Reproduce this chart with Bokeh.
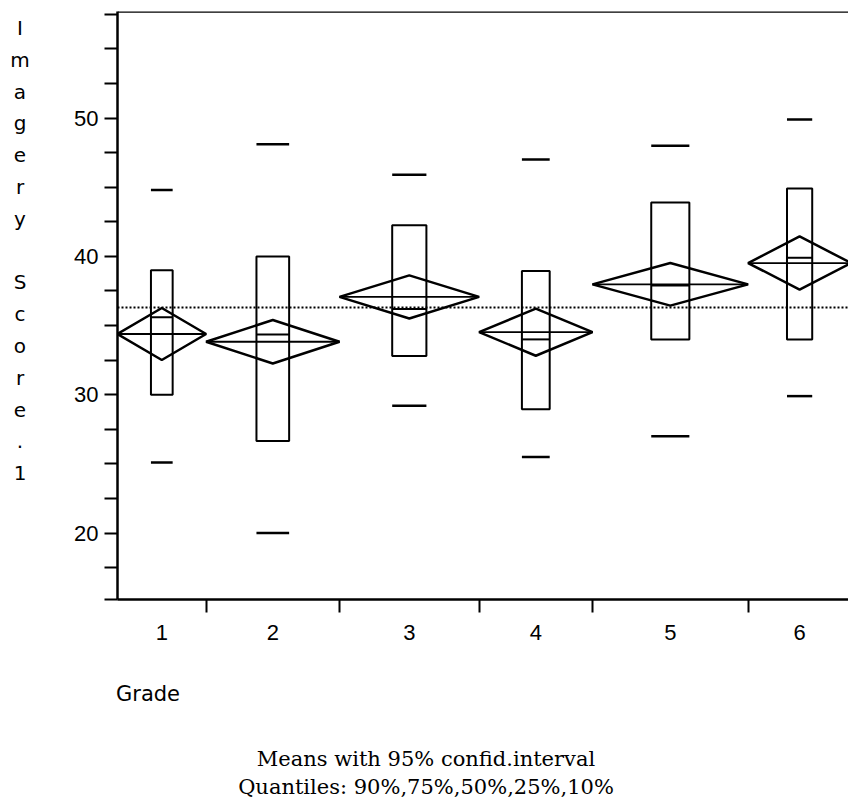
import numpy as np
from bokeh.plotting import figure
from bokeh.models import FixedTicker, Span, ColumnDataSource, Range1d, Div
from bokeh.layouts import row, column
from bokeh.embed import file_html
from bokeh.resources import INLINE

# ---- data ----
grades = ["1", "2", "3", "4", "5", "6"]
group_width = [8.86, 13.34, 13.96, 11.34, 15.56, 10.3]   # relative group sizes (x-axis widths)
means = [34.39, 33.83, 37.07, 34.52, 37.98, 39.52]
ci_half = [1.88, 1.57, 1.56, 1.70, 1.54, 1.92]
q90 = [44.8, 48.1, 45.9, 47.0, 48.0, 49.9]
q75 = [39.0, 40.0, 42.25, 38.95, 43.9, 44.9]
q50 = [35.6, 34.35, 36.2, 34.0, 37.9, 39.9]
q25 = [30.0, 26.65, 32.8, 28.95, 34.0, 34.0]
q10 = [25.1, 20.0, 29.2, 25.5, 27.0, 29.9]
grand_mean = 36.3
y_major = [20, 30, 40, 50]
y_label = "Imagery Score.1"
x_label = "Grade"
caption = ["Means with 95% confid.interval", "Quantiles: 90%,75%,50%,25%,10%"]

# ---- derived geometry ----
edges = np.concatenate([[0.0], np.cumsum(group_width)])
centers = [round(float((edges[i] + edges[i + 1]) / 2), 3) for i in range(len(grades))]
left = [float(edges[i]) for i in range(len(grades))]
right = [float(edges[i + 1]) for i in range(len(grades))]
box_frac = 0.245
bw = [w * box_frac for w in group_width]
bl = [c - b / 2 for c, b in zip(centers, bw)]
br = [c + b / 2 for c, b in zip(centers, bw)]

y_start, y_end = 15.2, 57.7
x_start, x_end = 0.0, 73.1

FONT = "Liberation Sans"
FONT2 = "DejaVu Sans"
LEFT_W = 40

p = figure(width=848 - LEFT_W, height=650, output_backend="svg", toolbar_location=None,
           x_range=Range1d(x_start, x_end), y_range=Range1d(y_start, y_end),
           min_border_left=117 - LEFT_W, min_border_right=0, min_border_top=11,
           min_border_bottom=51, margin=(0, 0, 0, 0))
p.outline_line_color = None
p.xgrid.visible = False
p.ygrid.visible = False
p.background_fill_color = "white"
p.border_fill_color = "white"

# y axis
ya = p.yaxis[0]
minor_y = [y_start] + [float(v) for v in np.arange(17.5, 58.0, 2.5) if v not in y_major]
ya.ticker = FixedTicker(ticks=y_major, minor_ticks=minor_y)
ya.axis_line_width = 2.5
ya.major_tick_out = 13
ya.major_tick_in = 0
ya.minor_tick_out = 13
ya.minor_tick_in = 0
ya.major_tick_line_width = 2
ya.minor_tick_line_width = 2
ya.major_label_standoff = 6
ya.major_label_text_font = FONT
ya.major_label_text_font_size = "22px"
ya.major_label_text_color = "black"

# x axis
xa = p.xaxis[0]
xa.ticker = FixedTicker(ticks=centers, minor_ticks=[float(e) for e in edges[1:-1]])
xa.major_label_overrides = {c: g for c, g in zip(centers, grades)}
xa.axis_line_width = 2.5
xa.major_tick_out = 0
xa.major_tick_in = 0
xa.minor_tick_out = 13
xa.minor_tick_in = 0
xa.minor_tick_line_width = 2
xa.major_label_standoff = 12
xa.major_label_text_font = FONT
xa.major_label_text_font_size = "22px"
xa.major_label_text_color = "black"

# top frame line and grand mean
p.add_layout(Span(location=y_end, dimension="width", line_color="black", line_width=2.5))
p.add_layout(Span(location=grand_mean, dimension="width", line_color="black",
                  line_width=2, line_dash="2 2"))

# diamonds (mean with 95% CI)
xs = [[l, c, r, c] for l, c, r in zip(left, centers, right)]
ys = [[m, m + h, m, m - h] for m, h in zip(means, ci_half)]
p.patches(xs=xs, ys=ys, fill_color=None, line_color="black", line_width=2.5)
p.segment(x0=left, y0=means, x1=right, y1=means, line_color="black", line_width=1.8)

# quantile boxes
src = ColumnDataSource(dict(bl=bl, br=br, q90=q90, q75=q75, q50=q50, q25=q25, q10=q10))
p.quad(left="bl", right="br", bottom="q25", top="q75", source=src,
       fill_color=None, line_color="black", line_width=2)
p.segment(x0="bl", y0="q50", x1="br", y1="q50", source=src, line_color="black", line_width=2)
p.segment(x0="bl", y0="q90", x1="br", y1="q90", source=src, line_color="black", line_width=2.5)
p.segment(x0="bl", y0="q10", x1="br", y1="q10", source=src, line_color="black", line_width=2.5)

# vertical stacked y-axis label
letters = "<br>".join(ch if ch != " " else "&nbsp;" for ch in y_label)
ydiv = Div(text=letters, width=LEFT_W, height=650, margin=(0, 0, 0, 0),
           styles={"font-family": FONT2, "font-size": "20px", "line-height": "31.8px",
                   "text-align": "center", "padding-top": "13px", "color": "black",
                   "box-sizing": "border-box"})

# x-axis title and caption
cap_html = (
    '<div style="position:relative;width:848px;height:149px;">'
    f'<div style="position:absolute;left:116px;top:34px;font-family:\'{FONT2}\';'
    f'font-size:21px;line-height:21px;white-space:nowrap;">{x_label}</div>'
    '<div style="position:absolute;left:0px;top:95px;width:852px;text-align:center;'
    'font-family:\'DejaVu Serif\';font-size:21px;line-height:28px;white-space:nowrap;">'
    + "<br>".join(caption) + '</div></div>'
)
bdiv = Div(text=cap_html, width=848, height=149, margin=(0, 0, 0, 0),
           styles={"color": "black"})

layout = column(row(ydiv, p, margin=(0, 0, 0, 0)), bdiv, margin=(0, 0, 0, 0))
open("out.html", "w").write(file_html(layout, INLINE))
